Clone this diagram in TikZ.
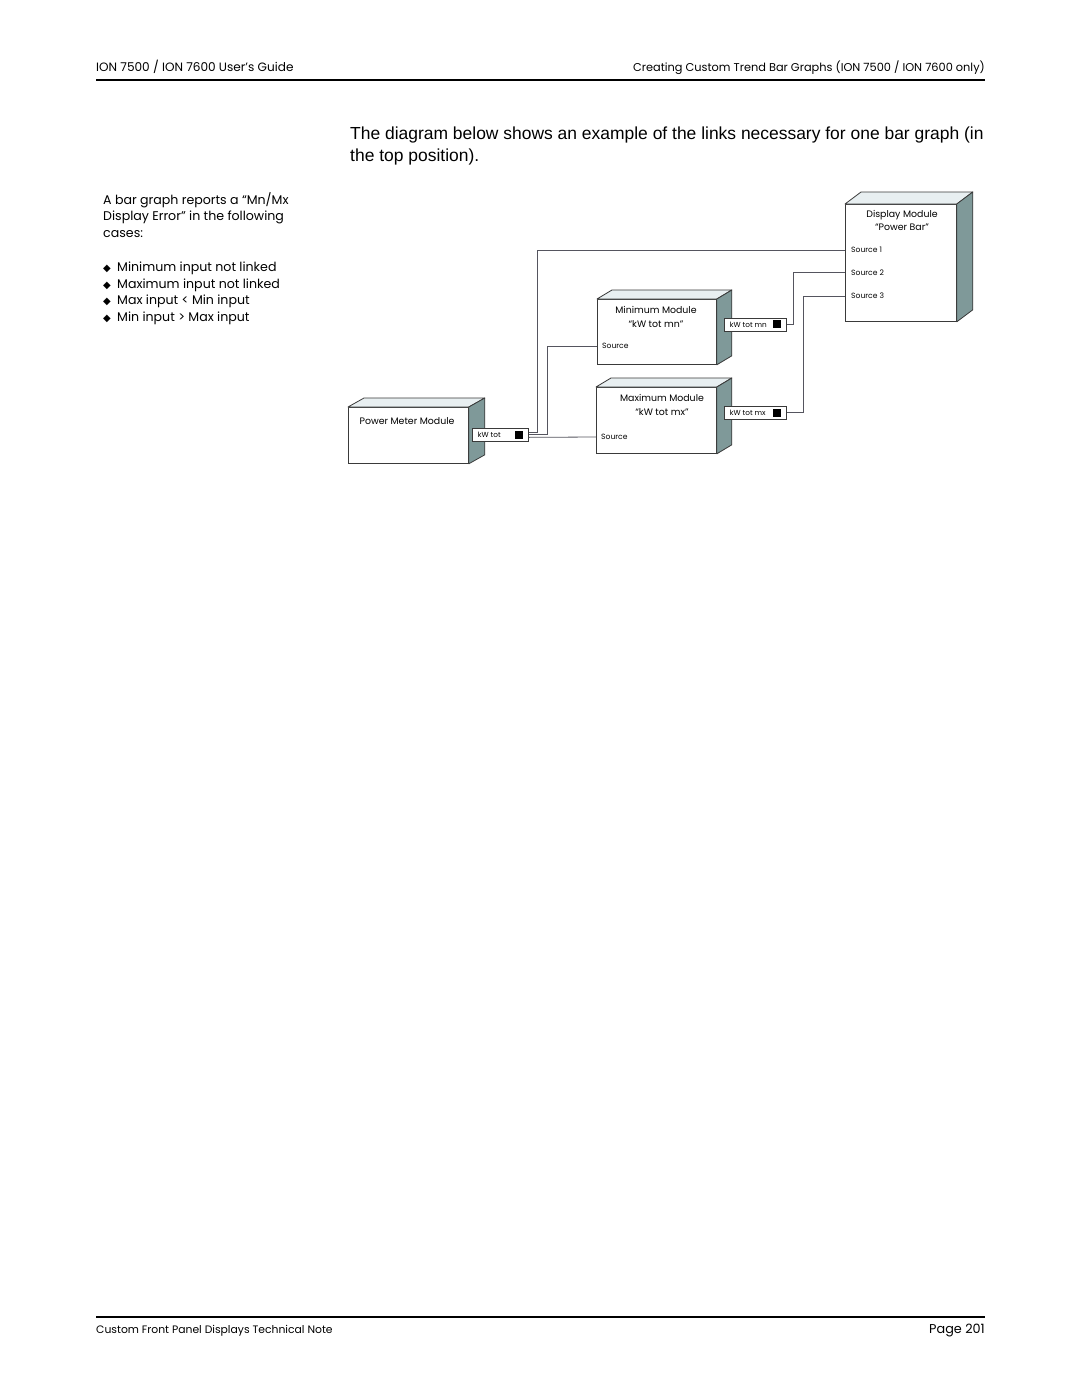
\documentclass[tikz,border=0pt]{standalone}
\usepackage{fontspec}
\setmainfont{Poppins}
\newfontfamily\arialf{Liberation Sans}
\newfontfamily\dejavu{DejaVu Sans}
\usetikzlibrary{calc}
\definecolor{topface}{HTML}{E8EFF1}
\definecolor{sideface}{HTML}{7F9999}
\definecolor{edge}{HTML}{3A3A3A}
\definecolor{wire}{HTML}{55555F}
\newcommand\drawdepth[3]{%
  \filldraw[topfc] (#1.north west) -- ++(#2,-#3) -- ($(#1.north east)+(#2,-#3)$) -- (#1.north east) -- cycle;
  \filldraw[sidefc] (#1.north east) -- ++(#2,-#3) -- ($(#1.south east)+(#2,-#3)$) -- (#1.south east) -- cycle;}
\tikzset{
  module/.style={draw=edge, fill=white, anchor=north west, inner sep=0, line width=0.8pt},
  topfc/.style={draw=edge, fill=topface, line width=0.8pt, line join=round},
  sidefc/.style={draw=edge, fill=sideface, line width=0.8pt, line join=round},
  port/.style={draw=edge, fill=white, anchor=north west, inner xsep=5.5pt, inner ysep=0pt, minimum height=13pt, line width=0.7pt, font=\fontsize{7.3}{8}\selectfont},
  modtxt/.style={inner sep=0, align=center, font=\fontsize{9.4}{13.5}\selectfont},
  srctxt/.style={inner sep=0, anchor=west, font=\fontsize{7.6}{8}\selectfont},
  link/.style={draw=wire, line width=0.8pt},
  hdr/.style={inner sep=0},
  lefttxt/.style={inner sep=0, anchor=base west, font=\fontsize{12.6}{14}\selectfont},
  bodytxt/.style={inner sep=0, anchor=base west, font=\arialf\fontsize{17.45}{22}\selectfont},
}
\newcommand\bul{\makebox[14pt][l]{\dejavu\fontsize{10}{10}\selectfont ◆}}
\begin{document}
\begin{tikzpicture}[x=1pt,y=-1pt]
\useasboundingbox[fill=white] (0,0) rectangle (1080,1397);

% header
\node[hdr, anchor=base west, font=\fontsize{12.1}{13}\selectfont] (h1) at (96,71) {ION 7500 / ION 7600 User’s Guide};
\node[hdr, anchor=base east, font=\fontsize{11.35}{13}\selectfont] (h2) at (985,71) {Creating Custom Trend Bar Graphs (ION 7500 / ION 7600 only)};
\draw[line width=2pt] (96,79.5) -- (985,79.5);

% footer
\draw[line width=2pt] (96,1317) -- (985,1317);
\node[hdr, anchor=base west, font=\fontsize{10.8}{13}\selectfont] (f1) at (96,1333) {Custom Front Panel Displays Technical Note};
\node[hdr, anchor=base east, font=\fontsize{12.8}{13}\selectfont] (f2) at (985,1333) {Page 201};

% body paragraph
\node[bodytxt] (p1) at (350,139) {The diagram below shows an example of the links necessary for one bar graph (in};
\node[bodytxt] (p2) at (350,161) {the top position).};

% left column
\node[lefttxt] (l1) at (103,204) {A bar graph reports a “Mn/Mx};
\node[lefttxt] (l2) at (103,220.5) {Display Error” in the following};
\node[lefttxt] (l3) at (103,237) {cases:};
\node[lefttxt] (b1) at (103,271) {\bul Minimum input not linked};
\node[lefttxt] (b2) at (103,288) {\bul Maximum input not linked};
\node[lefttxt] (b3) at (103,304.5) {\bul Max input < Min input};
\node[lefttxt] (b4) at (103,321) {\bul Min input > Max input};

% modules
\node[module, minimum width=120pt, minimum height=56pt] (pm) at (348,407) {};
\drawdepth{pm}{16}{9}
\node[modtxt] (pmt) at (407,421) {Power Meter Module};

\node[module, minimum width=119pt, minimum height=65pt] (minm) at (597,299) {};
\drawdepth{minm}{15}{9}
\node[modtxt] (minmt) at (656,317) {Minimum Module\\“kW tot mn”};
\node[srctxt] (minsrc) at (602,346) {Source};

\node[module, minimum width=120pt, minimum height=66pt] (maxm) at (596,387) {};
\drawdepth{maxm}{15}{9}
\node[modtxt] (maxmt) at (662,405) {Maximum Module\\“kW tot mx”};
\node[srctxt] (maxsrc) at (601,437) {Source};

\node[module, minimum width=111pt, minimum height=117pt] (disp) at (845,204) {};
\drawdepth{disp}{16}{12}
\node[modtxt] (dispt) at (902,220.5) {Display Module\\“Power Bar”};
\node[srctxt] (s1) at (851,250) {Source 1};
\node[srctxt] (s2) at (851,272.5) {Source 2};
\node[srctxt] (s3) at (851,296) {Source 3};

% output ports
\node[port] (kwtot) at (472,428) {\makebox[45pt][l]{kW tot\hfill\rule[-1pt]{8pt}{8pt}}};
\node[port] (kwtotmn) at (724,317.5) {\makebox[51pt][l]{kW tot mn\hfill\rule[-1pt]{8pt}{8pt}}};
\node[port] (kwtotmx) at (724,406) {\makebox[51pt][l]{kW tot mx\hfill\rule[-1pt]{8pt}{8pt}}};

% links
\draw[link] ([yshift=2.5pt]kwtot.east) -- ++(9,0) |- (disp.west |- s1);
\draw[link] (kwtot.east) -- ++(19,0) |- (minm.west |- minsrc);
\draw[link] ([yshift=-2.5pt]kwtot.east) -- (maxm.west |- maxsrc);
\draw[link] (kwtotmn.east) -- ++(7,0) |- (disp.west |- s2);
\draw[link] (kwtotmx.east) -- ++(17,0) |- (disp.west |- s3);
\end{tikzpicture}
\end{document}
